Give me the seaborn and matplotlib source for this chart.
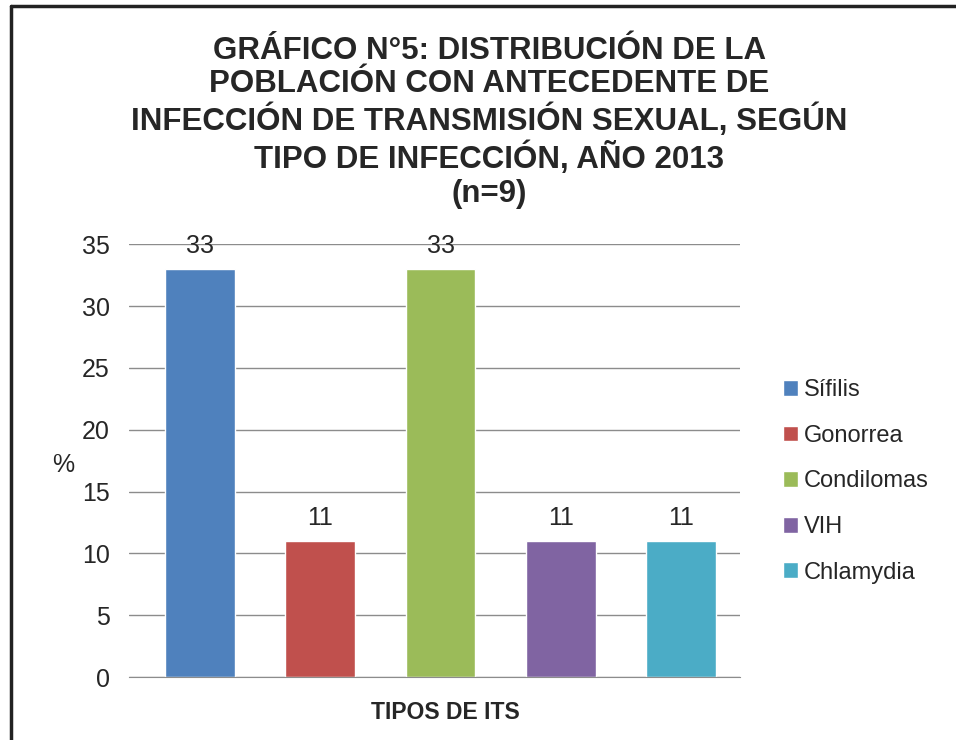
import matplotlib
matplotlib.use("Agg")
import matplotlib.pyplot as plt
from matplotlib.lines import Line2D
import seaborn as sns
import pandas as pd

# datos del gráfico
tipos = ["Sífilis", "Gonorrea", "Condilomas", "VIH", "Chlamydia"]
porcentajes = [33, 11, 33, 11, 11]
colores = ["#4F81BD", "#C0504D", "#9BBB59", "#8064A2", "#4BACC6"]

titulo = ("GRÁFICO N°5: DISTRIBUCIÓN DE LA\n"
          "POBLACIÓN CON ANTECEDENTE DE\n"
          "INFECCIÓN DE TRANSMISIÓN SEXUAL, SEGÚN\n"
          "TIPO DE INFECCIÓN, AÑO 2013\n"
          "(n=9)")

sns.set_style("white")
plt.rcParams['font.family'] = ['Liberation Sans', 'DejaVu Sans']

df = pd.DataFrame({"tipo": tipos, "pct": porcentajes})

fig = plt.figure(figsize=(9.56, 7.4), dpi=100)
ax = fig.add_axes([0.135, 0.085, 0.639, 0.585])

sns.barplot(data=df, x="tipo", y="pct", hue="tipo", palette=colores,
            width=0.58, saturation=1, legend=True, ax=ax)

for c in ax.containers:
    ax.bar_label(c, fontsize=18, padding=8)

ax.set_xlim(-0.59, 4.49)
ax.set_ylim(0, 35)
ax.set_yticks(range(0, 36, 5))
ax.tick_params(axis="y", labelsize=18, length=0, pad=14)
ax.set_xticks([])
ax.yaxis.grid(True, color="#8c8c8c", linewidth=1)
ax.set_axisbelow(True)
for s in ["top", "right", "left"]:
    ax.spines[s].set_visible(False)
ax.spines["bottom"].set_color("#8c8c8c")

ax.set_xlabel("TIPOS DE ITS", fontsize=16.5, fontweight="bold")
ax.xaxis.set_label_coords(0.518, -0.055)
ax.set_ylabel("%", fontsize=18, rotation=0, va="center", ha="center")
ax.yaxis.set_label_coords(-0.108, 0.491)

ax.legend(loc="center left", bbox_to_anchor=(1.035, 0.452), frameon=False,
          fontsize=17, handlelength=0.65, handleheight=0.65, handletextpad=0.25,
          labelspacing=1.0)

fig.text(0.512, 0.952, titulo, ha="center", va="top", fontsize=22.5,
         fontweight="bold", linespacing=1.17)

# marco (solo bordes superior e izquierdo visibles, como en la imagen)
fig.add_artist(Line2D([0.011, 0.011], [0.0, 0.992], transform=fig.transFigure,
                      color="#222222", linewidth=2.5))
fig.add_artist(Line2D([0.011, 1.0], [0.992, 0.992], transform=fig.transFigure,
                      color="#222222", linewidth=2.5))

fig.savefig("out.png", dpi=100)
